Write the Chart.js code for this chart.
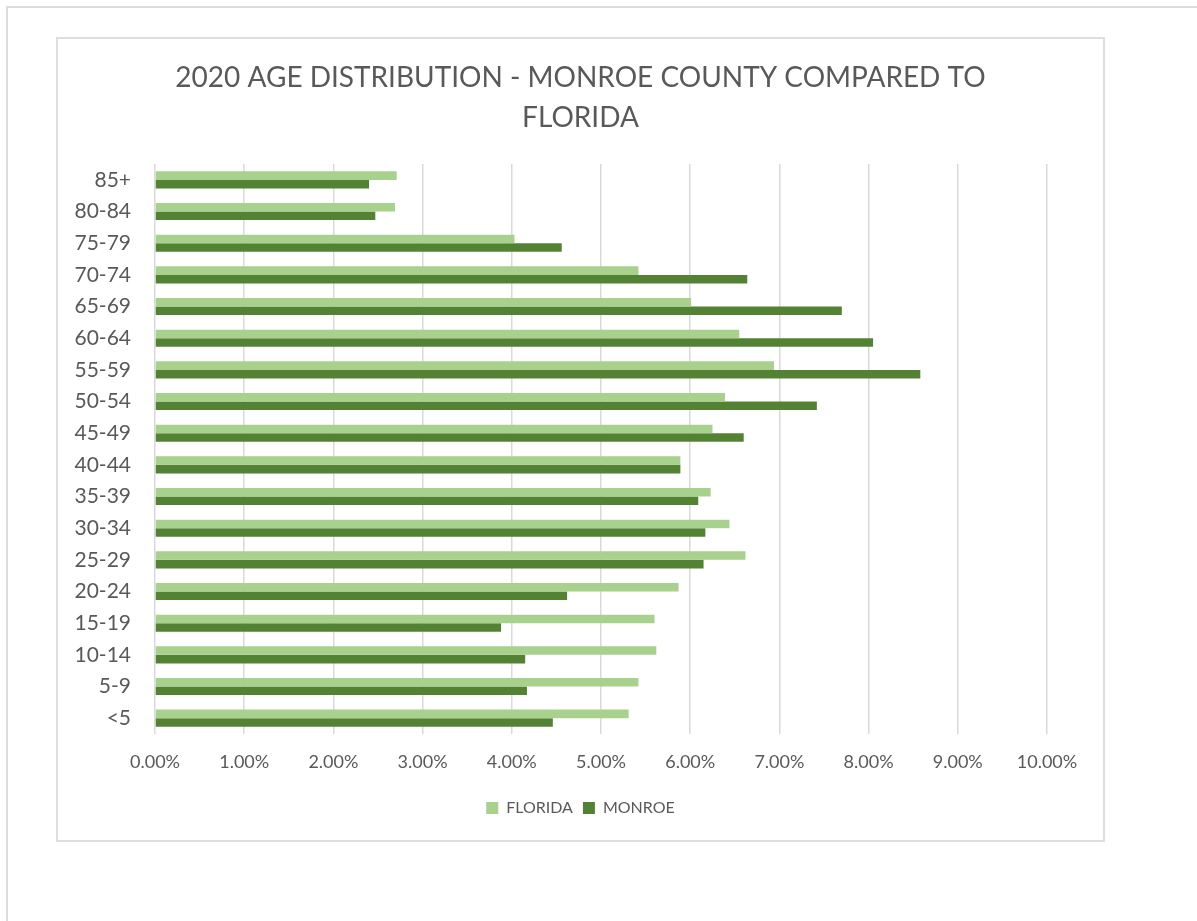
<!DOCTYPE html>
<html>
<head>
<meta charset="utf-8">
<script src="https://cdn.jsdelivr.net/npm/chart.js@4.4.1/dist/chart.umd.min.js"></script>
<style>
  body { margin: 0; background: #fff; width: 1197px; height: 921px; overflow: hidden; position: relative; }
  .frame { position: absolute; left: 6px; top: 6px; width: 1300px; height: 1000px; border: 2px solid #dcdcdc; }
  .box { position: absolute; left: 56px; top: 37px; width: 1045px; height: 801px; border: 2px solid #dedede; background: #fff; }
  canvas { display: block; }
</style>
</head>
<body>
<div class="frame"></div>
<div class="box"><canvas id="chart" width="1045" height="801"></canvas></div>
<script>
// Age groups, top to bottom as shown
var ageGroups = ['85+', '80-84', '75-79', '70-74', '65-69', '60-64', '55-59', '50-54', '45-49',
                 '40-44', '35-39', '30-34', '25-29', '20-24', '15-19', '10-14', '5-9', '<5'];
// Share of population, percent
var florida = [2.71, 2.69, 4.03, 5.42, 6.01, 6.55, 6.94, 6.39, 6.25,
               5.89, 6.23, 6.44, 6.62, 5.87, 5.60, 5.62, 5.42, 5.31];
var monroe  = [2.40, 2.47, 4.56, 6.64, 7.70, 8.05, 8.58, 7.42, 6.60,
               5.89, 6.09, 6.17, 6.15, 4.62, 3.88, 4.15, 4.17, 4.46];
var xTicks = [0, 1, 2, 3, 4, 5, 6, 7, 8, 9, 10];

var grey = '#595959';
var font = 'Lato, "Open Sans", sans-serif';

document.addEventListener("DOMContentLoaded", function() {
    var ctx = document.getElementById('chart').getContext('2d');
    new Chart(ctx, {
        type: 'bar',
        data: {
            labels: ageGroups,
            datasets: [{
                label: 'FLORIDA',
                data: florida,
                backgroundColor: '#A9D18E',
                borderWidth: 0
            }, {
                label: 'MONROE',
                data: monroe,
                backgroundColor: '#548235',
                borderWidth: 0
            }]
        },
        options: {
            indexAxis: 'y',
            responsive: false,
            animation: false,
            categoryPercentage: 0.54,
            barPercentage: 1.0,
            layout: { padding: { left: 0, right: 0, top: 0, bottom: 14 } },
            plugins: {
                tooltip: { enabled: false },
                title: {
                    display: true,
                    text: ['2020 AGE DISTRIBUTION - MONROE COUNTY COMPARED TO', 'FLORIDA'],
                    color: grey,
                    font: { family: font, size: 28, weight: 'normal', lineHeight: 1.43 },
                    padding: { top: 19, bottom: 26 }
                },
                legend: {
                    position: 'bottom',
                    labels: {
                        color: grey,
                        font: { family: font, size: 16 },
                        boxWidth: 12,
                        boxHeight: 12,
                        padding: 10
                    }
                }
            },
            scales: {
                x: {
                    min: 0,
                    max: 10,
                    afterBuildTicks: function(axis) {
                        axis.ticks = xTicks.map(function(v) { return { value: v }; });
                    },
                    afterFit: function(axis) { axis.height = 56; },
                    grid: { color: '#d9d9d9', lineWidth: 1.5, drawTicks: false },
                    border: { display: false },
                    ticks: {
                        color: grey,
                        font: { family: font, size: 18 },
                        padding: 17,
                        maxRotation: 0,
                        callback: function(v) { return v.toFixed(2) + '%'; }
                    }
                },
                y: {
                    afterFit: function(axis) { axis.width = 97; },
                    grid: { display: false, drawTicks: false },
                    border: { display: false },
                    ticks: {
                        color: grey,
                        font: { family: font, size: 21 },
                        padding: 24,
                        autoSkip: false
                    }
                },
                // empty right-hand axis keeps the plot off the right edge
                spacer: {
                    axis: 'y',
                    type: 'category',
                    position: 'right',
                    afterFit: function(axis) { axis.width = 56; },
                    grid: { display: false, drawTicks: false },
                    border: { display: false },
                    ticks: { display: false }
                }
            }
        }
    });
});
</script>
</body>
</html>
